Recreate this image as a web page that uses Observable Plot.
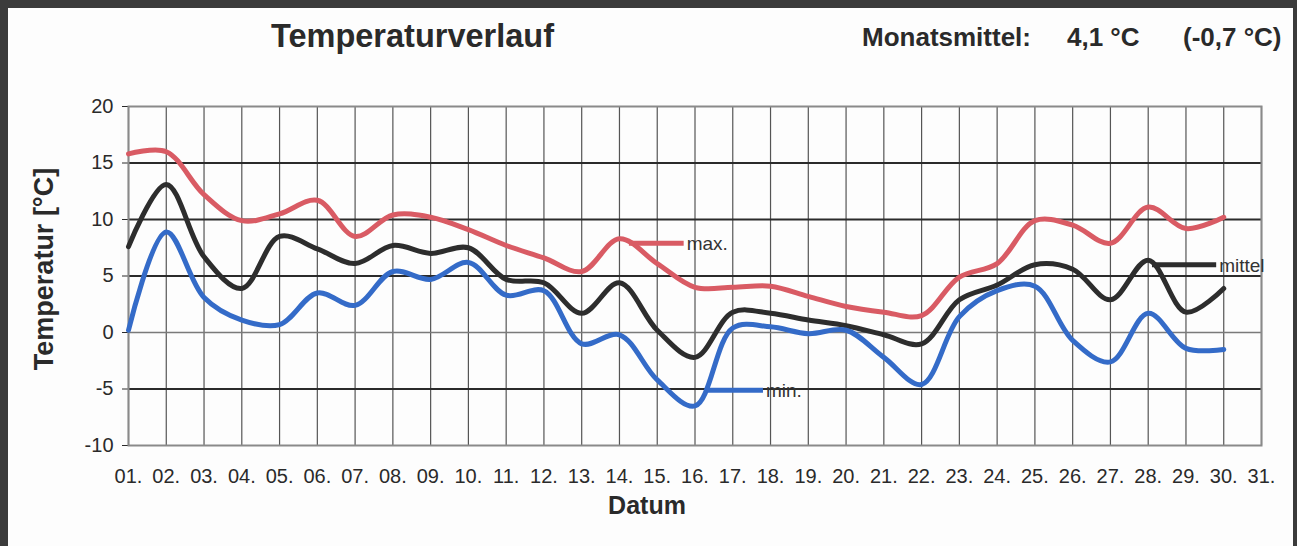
<!DOCTYPE html>
<html>
<head>
<meta charset="utf-8">
<script src="https://cdn.jsdelivr.net/npm/d3@7"></script>
<script src="https://cdn.jsdelivr.net/npm/@observablehq/plot@0.6"></script>
<style>
  body { margin: 0; background: #fff; }
  #page { position: relative; width: 1297px; height: 546px; overflow: hidden; background: #fdfdfd;
          font-family: "Liberation Sans", Arial, sans-serif; color: #2a2a2a; }
  .edge { position: absolute; background: #3b3b3b; }
  .txt { position: absolute; white-space: nowrap; font-weight: bold; }
  #chart { position: absolute; left: 0; top: 80px; }
</style>
</head>
<body>
<div id="page">
  <div class="edge" style="left:0;top:0;width:1297px;height:8px;"></div>
  <div class="edge" style="left:0;top:0;width:8px;height:546px;"></div>
  <div class="edge" style="left:1293px;top:0;width:4px;height:546px;"></div>
  <div class="txt" id="title" style="left:271px;top:20px;font-size:32.5px;line-height:32px;">Temperaturverlauf</div>
  <div class="txt" style="left:862px;top:25px;font-size:26px;line-height:25px;">Monatsmittel:</div>
  <div class="txt" style="left:1067px;top:25px;font-size:26px;line-height:25px;">4,1 °C</div>
  <div class="txt" style="left:1183px;top:25px;font-size:26px;line-height:25px;">(-0,7 °C)</div>
  <div id="chart"></div>
</div>
<script>
// Days of the month with data
const days = d3.range(1, 31);
// Tick labels on the x axis (01. … 31.)
const dayTickLabels = ["01.","02.","03.","04.","05.","06.","07.","08.","09.","10.","11.","12.","13.","14.","15.","16.","17.","18.","19.","20.","21.","22.","23.","24.","25.","26.","27.","28.","29.","30.","31."];
// Temperature ticks
const tempTicks = [-10, -5, 0, 5, 10, 15, 20];
const majorGrid = [15, 10, 5, -5];
const zeroGrid = [0];

// Series (°C)
const maxT = [15.8, 16.0, 12.2, 9.9, 10.5, 11.7, 8.5, 10.4, 10.2, 9.1, 7.7, 6.6, 5.4, 8.3, 6.1, 4.0, 4.0, 4.1, 3.2, 2.3, 1.8, 1.5, 4.9, 6.1, 9.9, 9.5, 7.9, 11.1, 9.2, 10.2];
const mittelT = [7.6, 13.1, 6.7, 3.9, 8.5, 7.4, 6.1, 7.7, 7.0, 7.5, 4.7, 4.4, 1.7, 4.4, 0.2, -2.2, 1.8, 1.7, 1.1, 0.6, -0.2, -1.0, 2.9, 4.2, 6.0, 5.6, 2.9, 6.4, 1.8, 3.9];
const minT = [0.2, 8.9, 3.1, 1.1, 0.7, 3.5, 2.4, 5.4, 4.7, 6.2, 3.3, 3.7, -1.0, -0.2, -4.2, -6.5, 0.4, 0.5, -0.1, 0.2, -2.2, -4.6, 1.4, 3.7, 4.1, -0.7, -2.6, 1.7, -1.4, -1.5];

// In-chart series labels (line start day, line end day, level)
const legendNames = ["max.", "min.", "mittel"];
const legendFrom = [14.25, 16.3, 28.1];
const legendTo = [15.7, 17.8, 29.8];
const legendLevel = [7.9, -5.1, 6.0];

const colors = {"max.": "#d95b64", "mittel": "#2d2d2d", "min.": "#346bc8"};

const series = [
  {name: "max.", values: maxT},
  {name: "mittel", values: mittelT},
  {name: "min.", values: minT}
];
const rows = series.flatMap(s => s.values.map((v, i) => ({day: days[i], temp: v, name: s.name})));
const legend = legendNames.map((n, i) => ({name: n, x1: legendFrom[i], x2: legendTo[i], y: legendLevel[i]}));

const plot = Plot.plot({
  width: 1297,
  height: 466,
  marginLeft: 128,
  marginRight: 36,
  marginTop: 26,
  marginBottom: 101,
  style: {fontFamily: "'Liberation Sans', Arial, sans-serif", fontSize: "20px", color: "#2a2a2a", background: "transparent"},
  x: {domain: [1, 31], ticks: dayTickLabels.map((_, i) => i + 1), tickFormat: d => dayTickLabels[d - 1], tickSize: 0, tickPadding: 23, label: null},
  y: {domain: [-10, 20], ticks: tempTicks, tickFormat: d => String(d), tickSize: 6, tickPadding: 9, label: null},
  marks: [
    Plot.ruleX(dayTickLabels.map((_, i) => i + 1), {stroke: "#555", strokeWidth: 1.2}),
    Plot.ruleY(zeroGrid, {stroke: "#7a7a7a", strokeWidth: 1.5}),
    Plot.ruleY(majorGrid, {stroke: "#2b2b2b", strokeWidth: 2.2}),
    Plot.frame({stroke: "#8a8a8a", strokeWidth: 2}),
    Plot.line(rows, {x: "day", y: "temp", z: "name", stroke: d => colors[d.name], strokeWidth: 5, curve: "catmull-rom"}),
    Plot.link(legend, {x1: "x1", x2: "x2", y1: "y", y2: "y", stroke: d => colors[d.name], strokeWidth: 5}),
    Plot.text(legend, {x: "x2", y: "y", text: "name", textAnchor: "start", dx: 3, dy: 1, fontSize: 19, fill: "#333"}),
    Plot.text(["Temperatur [°C]"], {frameAnchor: "left", textAnchor: "middle", lineAnchor: "middle", dx: -84, dy: -7, rotate: -90, fontSize: 27, fontWeight: "bold", fill: "#2a2a2a"}),
    Plot.text(["Datum"], {frameAnchor: "bottom", textAnchor: "middle", lineAnchor: "middle", dx: -48, dy: 60, fontSize: 25, fontWeight: "bold", fill: "#2a2a2a"})
  ]
});
document.getElementById("chart").appendChild(plot);
</script>
</body>
</html>
